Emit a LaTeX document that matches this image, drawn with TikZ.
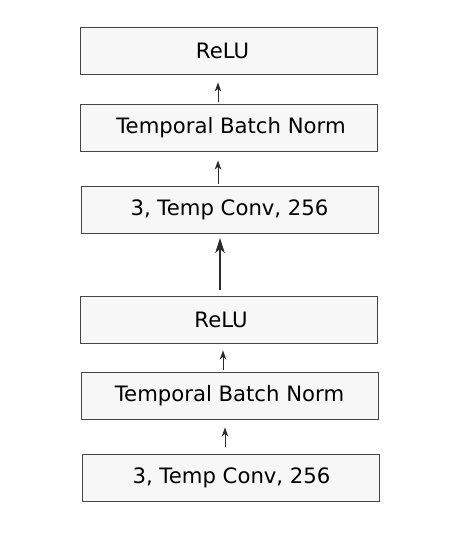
\documentclass[tikz,border=0pt]{standalone}
\usepackage{fontspec}
\setmainfont{DejaVu Sans}
\usetikzlibrary{arrows.meta}
\definecolor{boxfill}{HTML}{F7F7F7}
\definecolor{boxline}{HTML}{454545}
\definecolor{arrowcol}{HTML}{2A2A2A}
\begin{document}
\begin{tikzpicture}[x=1pt,y=-1pt,
  layer/.style={draw=boxline,fill=boxfill,line width=0.9pt,minimum width=297pt,minimum height=47pt,inner sep=0pt,font=\fontsize{21.2}{25}\selectfont},
  small/.style={draw=arrowcol,-{Stealth[length=9pt,width=6.5pt,inset=2.5pt]},line width=0.8pt},
  big/.style={draw=arrowcol,-{Stealth[length=15pt,width=9.5pt,inset=4pt]},line width=1.3pt}]
\useasboundingbox (0,0) rectangle (471,538);
\node[layer] (r1) at (228.5,51) {\hspace*{-12pt}ReLU};
\node[layer] (b1) at (228.5,127.5) {\hspace*{5pt}Temporal Batch Norm};
\node[layer] (c1) at (229.5,209.5) {3, Temp Conv, 256};
\node[layer] (r2) at (229,319.5) {\hspace*{-16pt}ReLU};
\node[layer] (b2) at (229.5,395.5) {Temporal Batch Norm};
\node[layer] (c2) at (230.5,477.5) {\hspace*{2pt}3, Temp Conv, 256};
\draw[small] ([xshift=-10.5pt,yshift=1.5pt]b1.north) -- ([xshift=-10.5pt,yshift=-7.5pt]r1.south);
\draw[small] ([xshift=-11.5pt,yshift=2pt]c1.north) -- ([xshift=-10.5pt,yshift=-9pt]b1.south);
\draw[big] ([xshift=-9pt,yshift=6pt]r2.north) -- ([xshift=-9.5pt,yshift=-4.5pt]c1.south);
\draw[small] ([xshift=-6.5pt,yshift=2pt]b2.north) -- ([xshift=-6pt,yshift=-7pt]r2.south);
\draw[small] ([xshift=-5.5pt,yshift=7pt]c2.north) -- ([xshift=-4.5pt,yshift=-8pt]b2.south);
\end{tikzpicture}
\end{document}
